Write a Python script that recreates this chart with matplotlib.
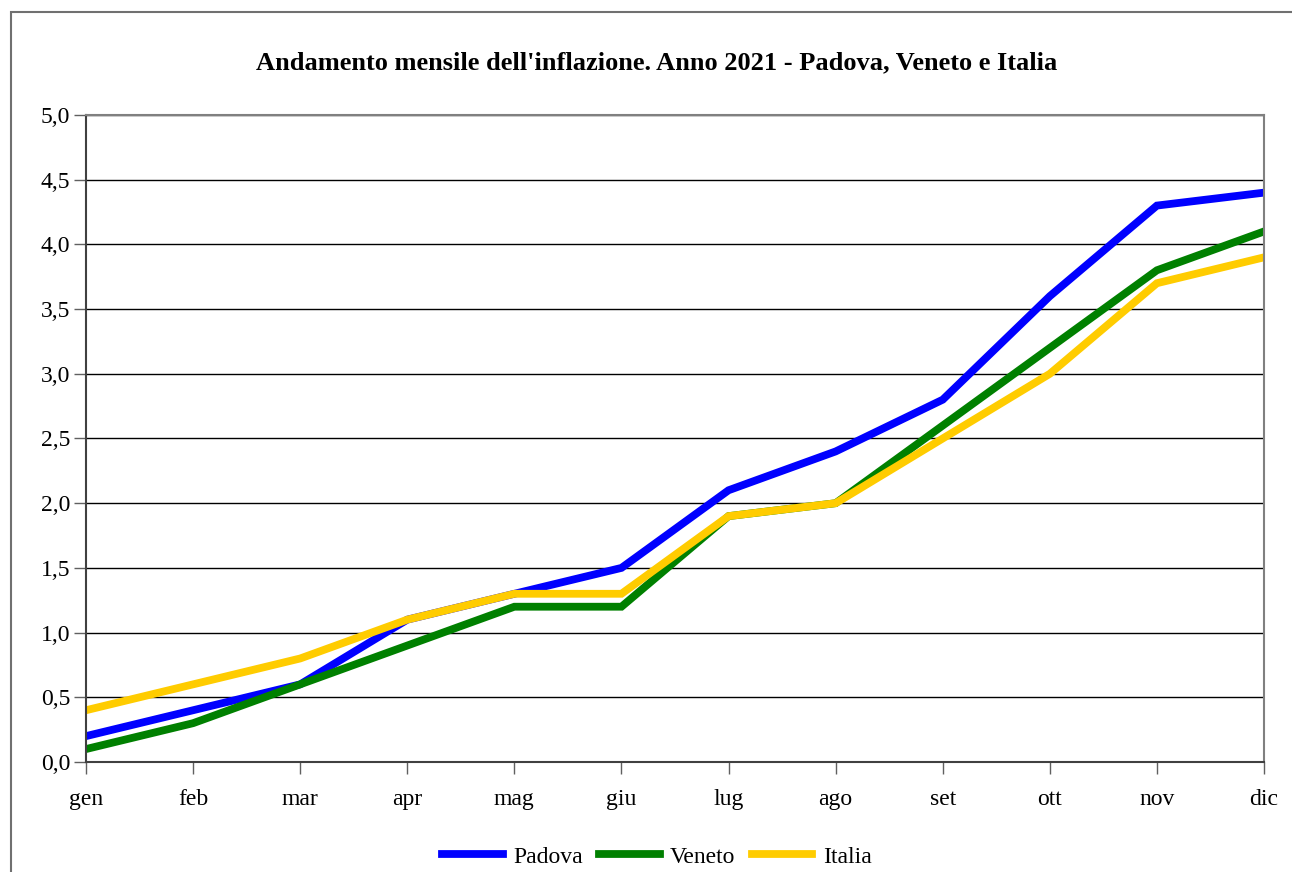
import matplotlib
matplotlib.use("Agg")
from matplotlib import pyplot as plt
from matplotlib.patches import Rectangle
from matplotlib.ticker import FuncFormatter

mesi = ["gen", "feb", "mar", "apr", "mag", "giu", "lug", "ago", "set", "ott", "nov", "dic"]
padova = [0.2, 0.4, 0.6, 1.1, 1.3, 1.5, 2.1, 2.4, 2.8, 3.6, 4.3, 4.4]
veneto = [0.1, 0.3, 0.6, 0.9, 1.2, 1.2, 1.9, 2.0, 2.6, 3.2, 3.8, 4.1]
italia = [0.4, 0.6, 0.8, 1.1, 1.3, 1.3, 1.9, 2.0, 2.5, 3.0, 3.7, 3.9]

plt.rcParams["font.family"] = ["Liberation Serif", "DejaVu Serif"]

fig = plt.figure(figsize=(12.92, 8.72), dpi=100)
ax = fig.add_axes([86/1292, 1-762/872, (1264-86)/1292, (762-115)/872])

# cornice esterna
fig.patches.append(Rectangle((11/1292, -0.1), 1.2, 1-12/872+0.1, transform=fig.transFigure,
                             fill=False, edgecolor="#707070", linewidth=1.5))

x = list(range(len(mesi)))
ax.plot(x, padova, color="#0000ff", linewidth=5.6, label="Padova", solid_joinstyle="miter")
ax.plot(x, veneto, color="#008000", linewidth=5.6, label="Veneto", solid_joinstyle="miter")
ax.plot(x, italia, color="#ffcc00", linewidth=5.6, label="Italia", solid_joinstyle="miter")

ax.set_xlim(0, 11)
ax.set_ylim(0, 5)
ax.set_yticks([i*0.5 for i in range(11)])
ax.yaxis.set_major_formatter(FuncFormatter(lambda v, p: f"{v:.1f}".replace(".", ",")))
ax.set_xticks(x)
ax.set_xticklabels(mesi)
ax.grid(axis="y", color="black", linewidth=1)
ax.set_axisbelow(True)
for s in ax.spines.values():
    s.set_color("#808080")
    s.set_linewidth(1.5)
ax.spines["left"].set_color("#404040")
ax.spines["bottom"].set_color("#404040")
ax.tick_params(axis="both", labelsize=17, color="#606060", length=8.5, width=1)
ax.tick_params(axis="x", pad=11)
ax.tick_params(axis="y", pad=3)

fig.suptitle("Andamento mensile dell'inflazione. Anno 2021 - Padova, Veneto e Italia",
             x=657/1292, y=1-63/872, va="center", fontsize=19, fontweight="bold")

ax.legend(loc="center", bbox_to_anchor=(657/1292, 1-857/872), bbox_transform=fig.transFigure,
          ncol=3, frameon=False, fontsize=17, handlelength=2.55, handletextpad=0.45,
          columnspacing=0.7)

plt.savefig("out.png", dpi=100)
